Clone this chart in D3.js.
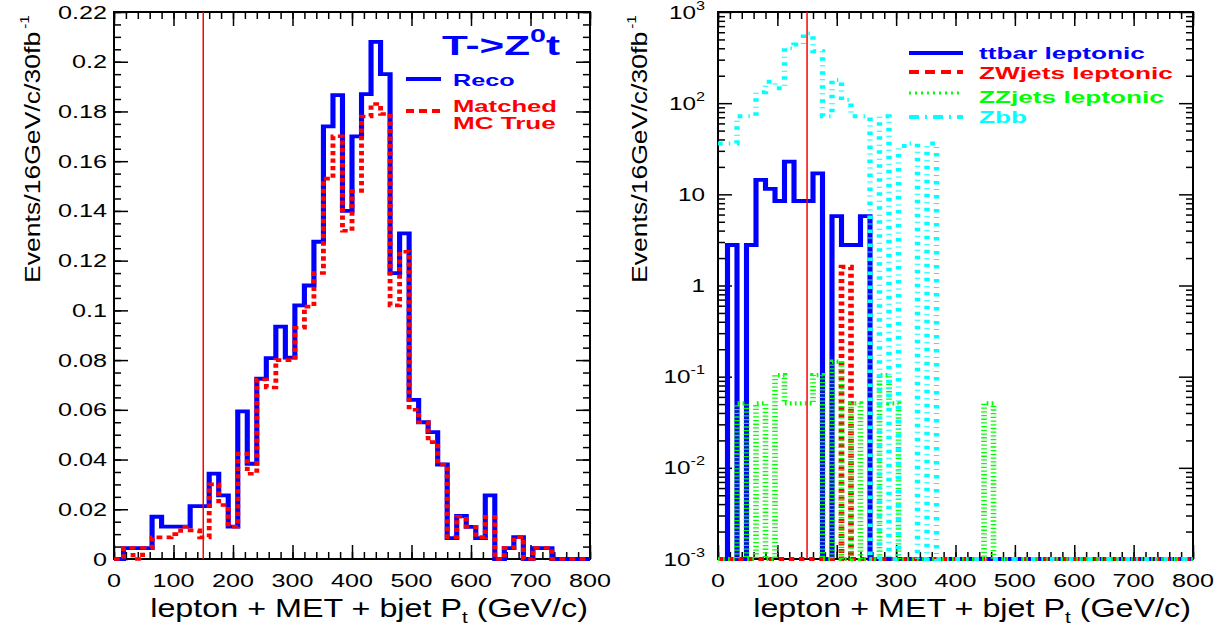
<!DOCTYPE html>
<html>
<head>
<meta charset="utf-8">
<script src="https://cdn.jsdelivr.net/npm/d3@7"></script>
<style>
body { margin: 0; background: #fff; }
svg { display: block; font-family: "Liberation Sans", Arial, Helvetica, sans-serif; }
</style>
</head>
<body>
<svg id="viz" width="1223" height="628"></svg>
<script>
// 50 bins of 16 GeV between 0 and 800
var binWidth = 16, nBins = 50;
var edges = d3.range(nBins + 1).map(function(i) { return i * binWidth; });

// left panel: T->Z0t signal
var recoVals = [0, 0.0044, 0.0044, 0.0044, 0.017, 0.013, 0.013, 0.013, 0.0213, 0.0213,
    0.0343, 0.0256, 0.013, 0.0594, 0.0383, 0.0725, 0.0808, 0.0935, 0.081, 0.102,
    0.110, 0.1276, 0.174, 0.1866, 0.140, 0.170, 0.187, 0.208, 0.195, 0.115,
    0.131, 0.064, 0.055, 0.051, 0.038, 0.0084, 0.0173, 0.0129, 0.0084, 0.0256,
    0, 0.0044, 0.0088, 0, 0.0044, 0.0044, 0, 0, 0, 0];
var matchedVals = [0, 0.0044, 0, 0.0044, 0.0087, 0.0087, 0.010, 0.013, 0.0115, 0.0087,
    0.030, 0.0217, 0.013, 0.0424, 0.0343, 0.0722, 0.069, 0.080, 0.080, 0.093,
    0.1015, 0.115, 0.153, 0.170, 0.132, 0.148, 0.178, 0.183, 0.179, 0.102,
    0.1236, 0.060, 0.055, 0.047, 0.038, 0.0088, 0.017, 0.013, 0.0088, 0.017,
    0, 0.0044, 0.0088, 0, 0.0044, 0.0044, 0, 0, 0, 0];

// right panel: backgrounds (log scale)
var ttbarVals = [0, 2.78, 0, 2.78, 14.4, 11.5, 8.45, 22.8, 8.45, 8.45,
    17.0, 0, 5.78, 2.78, 2.78, 5.78, 0, 0, 0, 0,
    0, 0, 0, 0, 0, 0, 0, 0, 0, 0,
    0, 0, 0, 0, 0, 0, 0, 0, 0, 0,
    0, 0, 0, 0, 0, 0, 0, 0, 0, 0];
var zwVals = [0, 0, 0, 0, 0, 0, 0, 0, 0, 0,
    0, 0, 0, 1.6, 0, 0, 0, 0, 0, 0,
    0, 0, 0, 0, 0, 0, 0, 0, 0, 0,
    0, 0, 0, 0, 0, 0, 0, 0, 0, 0,
    0, 0, 0, 0, 0, 0, 0, 0, 0, 0];
var zzVals = [0, 0, 0.051, 0, 0.051, 0, 0.104, 0.051, 0.051, 0.051,
    0.104, 0, 0.146, 0, 0.051, 0, 0, 0.104, 0.051, 0,
    0, 0, 0, 0, 0, 0, 0, 0, 0.051, 0,
    0, 0, 0, 0, 0, 0, 0, 0, 0, 0,
    0, 0, 0, 0, 0, 0, 0, 0, 0, 0];
var zbbVals = [36, 36, 72, 72, 132, 172, 146, 400, 440, 580,
    370, 72, 180, 108, 72, 72, 0, 72, 0, 34,
    36, 0, 36, 0, 0, 0, 0, 0, 0, 0,
    0, 0, 0, 0, 0, 0, 0, 0, 0, 0,
    0, 0, 0, 0, 0, 0, 0, 0, 0, 0];

var cutValue = 150;

var xTicks = [0, 100, 200, 300, 400, 500, 600, 700, 800];
var xMinor = d3.range(0, 801, 20);
var linTicks = [0, 0.02, 0.04, 0.06, 0.08, 0.1, 0.12, 0.14, 0.16, 0.18, 0.2, 0.22];
var linTickLabels = ["0", "0.02", "0.04", "0.06", "0.08", "0.1", "0.12", "0.14", "0.16", "0.18", "0.2", "0.22"];
var linMinor = d3.range(0, 0.2201, 0.005);
var logTicks = [1e-3, 1e-2, 1e-1, 1, 10, 100, 1000];
var logTickLabels = [["10", "-3"], ["10", "-2"], ["10", "-1"], ["1", ""], ["10", ""], ["10", "2"], ["10", "3"]];
var logMinor = [];
[-3, -2, -1, 0, 1, 2].forEach(function(d) {
    for (var k = 2; k <= 9; k++) logMinor.push(k * Math.pow(10, d));
});

var svg = d3.select("#viz");
var yTop = 12, yBot = 559;
var S = 1.35;   // horizontal stretch of the original output

var left = { x0: 114, x1: 590 };
var right = { x0: 718, x1: 1193 };

left.x = d3.scaleLinear().domain([0, 800]).range([left.x0, left.x1]);
left.y = d3.scaleLinear().domain([0, 0.22]).range([yBot, yTop]);
right.x = d3.scaleLinear().domain([0, 800]).range([right.x0, right.x1]);
right.y = d3.scaleLog().domain([1e-3, 1e3]).range([yBot, yTop]);

function stretched(parent, x, y, anchor, sx) {
    var g = parent.append("g").attr("transform", "translate(" + x + "," + y + ") scale(" + sx + ",1)");
    return g.append("text").attr("text-anchor", anchor);
}

function fitText(parent, x, y, anchor, width) {
    var g = parent.append("g");
    var t = g.append("text").attr("text-anchor", anchor);
    return { g: g, t: t, done: function() {
        var w = t.node().getBBox().width;
        g.attr("transform", "translate(" + x + "," + y + ") scale(" + (width / w) + ",1)");
    } };
}

function ticks(p, yScale, yMajor, yMin) {
    var g = svg.append("g");
    function style(sel) {
        sel.select(".domain").remove();
        sel.selectAll("text").remove();
        sel.selectAll("line").attr("stroke", "#000").attr("stroke-width", 1.5);
    }
    g.append("g").attr("transform", "translate(0," + yBot + ")")
        .call(d3.axisBottom(p.x).tickValues(xTicks).tickSize(-14)).call(style);
    g.append("g").attr("transform", "translate(0," + yBot + ")")
        .call(d3.axisBottom(p.x).tickValues(xMinor).tickSize(-7)).call(style);
    g.append("g").attr("transform", "translate(0," + yTop + ")")
        .call(d3.axisTop(p.x).tickValues(xTicks).tickSize(-14)).call(style);
    g.append("g").attr("transform", "translate(0," + yTop + ")")
        .call(d3.axisTop(p.x).tickValues(xMinor).tickSize(-7)).call(style);
    g.append("g").attr("transform", "translate(" + p.x0 + ",0)")
        .call(d3.axisLeft(yScale).tickValues(yMajor).tickSize(-14)).call(style);
    g.append("g").attr("transform", "translate(" + p.x0 + ",0)")
        .call(d3.axisLeft(yScale).tickValues(yMin).tickSize(-7)).call(style);
    g.append("g").attr("transform", "translate(" + p.x1 + ",0)")
        .call(d3.axisRight(yScale).tickValues(yMajor).tickSize(-14)).call(style);
    g.append("g").attr("transform", "translate(" + p.x1 + ",0)")
        .call(d3.axisRight(yScale).tickValues(yMin).tickSize(-7)).call(style);

    svg.append("rect")
        .attr("x", p.x0).attr("y", yTop)
        .attr("width", p.x1 - p.x0).attr("height", yBot - yTop)
        .attr("fill", "none").attr("stroke", "#000").attr("stroke-width", 2);

    xTicks.forEach(function(v) {
        stretched(svg, p.x(v), 587, "middle", 1.4)
            .attr("font-size", 18).text(v);
    });
}

// histogram outline, no vertical at the outer edges
function stepPoints(vals, floor) {
    var pts = [];
    vals.forEach(function(v, i) {
        var vv = Math.max(v, floor);
        pts.push([edges[i], vv]);
        pts.push([edges[i + 1], vv]);
    });
    return pts;
}

function histGroup(p, yScale) {
    var g = svg.append("g").attr("transform", "translate(" + p.x0 + ",0) scale(" + S + ",1)");
    var xs = d3.scaleLinear().domain([0, 800]).range([0, (p.x1 - p.x0) / S]);
    var line = d3.line().x(function(d) { return xs(d[0]); }).y(function(d) { return yScale(d[1]); });
    return function(vals, floor, color, width, dash) {
        g.append("path")
            .attr("d", line(stepPoints(vals, floor)))
            .attr("fill", "none")
            .attr("stroke", color)
            .attr("stroke-width", width)
            .attr("stroke-dasharray", dash || null);
    };
}

function cutLine(p) {
    svg.append("line")
        .attr("x1", p.x(cutValue)).attr("x2", p.x(cutValue))
        .attr("y1", yTop).attr("y2", yBot)
        .attr("stroke", "#ff0000").attr("stroke-width", 1.5);
}

function axisTitles(p, titleX) {
    var xt = fitText(svg, p.x1 - 2, 617, "end", 438);
    xt.t.attr("font-size", 25);
    xt.t.append("tspan").text("lepton + MET + bjet P");
    xt.t.append("tspan").attr("font-size", 16).attr("dy", 6).text("t");
    xt.t.append("tspan").attr("dy", -6).text(" (GeV/c)");
    xt.done();

    var g = svg.append("g");
    var t = g.append("text").attr("font-size", 26);
    t.append("tspan").text("Events/16GeV/c/30fb");
    t.append("tspan").attr("font-size", 15).attr("dy", -13).attr("dx", 3).text("-1");
    var w = t.node().getBBox().width;
    g.attr("transform", "translate(" + titleX + ",283) rotate(-90) scale(" + (268 / w) + ",0.85)");
}

// ---------------- left panel ----------------
ticks(left, left.y, linTicks, linMinor);
linTicks.forEach(function(v, i) {
    stretched(svg, 107, left.y(v) + 6.5, "end", 1.4)
        .attr("font-size", 18).text(linTickLabels[i]);
});
var drawLeft = histGroup(left, left.y);
drawLeft(recoVals, 0, "#0000ff", 3.8);
drawLeft(matchedVals, 0, "#ff0000", 3.6, "4.3,3.2");
cutLine(left);
axisTitles(left, 40);

// legend
var lt = fitText(svg, 442, 55, "start", 118);
lt.t.attr("font-size", 28).attr("font-weight", "bold").attr("fill", "#0000ff");
lt.t.append("tspan").text("T->Z");
lt.t.append("tspan").attr("font-size", 19).attr("dy", -13).text("0");
lt.t.append("tspan").attr("dy", 13).text("t");
lt.done();

svg.append("line").attr("x1", 406).attr("x2", 441).attr("y1", 79).attr("y2", 79)
    .attr("stroke", "#0000ff").attr("stroke-width", 4);
svg.append("line").attr("x1", 406).attr("x2", 440).attr("y1", 111).attr("y2", 111)
    .attr("stroke", "#ff0000").attr("stroke-width", 4).attr("stroke-dasharray", "8,5");

var legLeft = [["Reco", 86, 62, "#0000ff"], ["Matched", 112, 104, "#ff0000"], ["MC True", 129, 103, "#ff0000"]];
legLeft.forEach(function(d) {
    var f = fitText(svg, 453, d[1], "start", d[2]);
    f.t.attr("font-size", 16).attr("font-weight", "bold").attr("fill", d[3]).text(d[0]);
    f.done();
});

// ---------------- right panel ----------------
ticks(right, right.y, logTicks, logMinor);
logTicks.forEach(function(v, i) {
    var lab = logTickLabels[i];
    var t = stretched(svg, 705, right.y(v) + 6.5, "end", 1.35).attr("font-size", 18);
    t.append("tspan").text(lab[0]);
    if (lab[1]) t.append("tspan").attr("font-size", 12).attr("dy", -9).text(lab[1]);
});
var drawRight = histGroup(right, right.y);
drawRight(ttbarVals, 1e-3, "#0000ff", 3.8);
drawRight(zwVals, 1e-3, "#ff0000", 4.2, "4,3.5");
drawRight(zzVals, 1e-3, "#00ff00", 4.2, "1.3,2.4");
drawRight(zbbVals, 1e-3, "#00ffff", 4, "3.5,4.5,1,5");
cutLine(right);
axisTitles(right, 647);

var legRight = [
    ["ttbar leptonic", "#0000ff", 53, 59, 166, null],
    ["ZWjets leptonic", "#ff0000", 72, 79, 194, "10,6"],
    ["ZZjets leptonic", "#00ff00", 93, 103, 185, "2,4"],
    ["Zbb", "#00ffff", 117, 123, 48, "10,6,2,6"]
];
legRight.forEach(function(d) {
    svg.append("line").attr("x1", 909).attr("x2", 963).attr("y1", d[2]).attr("y2", d[2])
        .attr("stroke", d[1]).attr("stroke-width", d[5] === "2,4" ? 3 : 4)
        .attr("stroke-dasharray", d[5]);
    var f = fitText(svg, 979, d[3], "start", d[4]);
    f.t.attr("font-size", 17).attr("font-weight", "bold").attr("fill", d[1]).text(d[0]);
    f.done();
});
</script>
</body>
</html>
